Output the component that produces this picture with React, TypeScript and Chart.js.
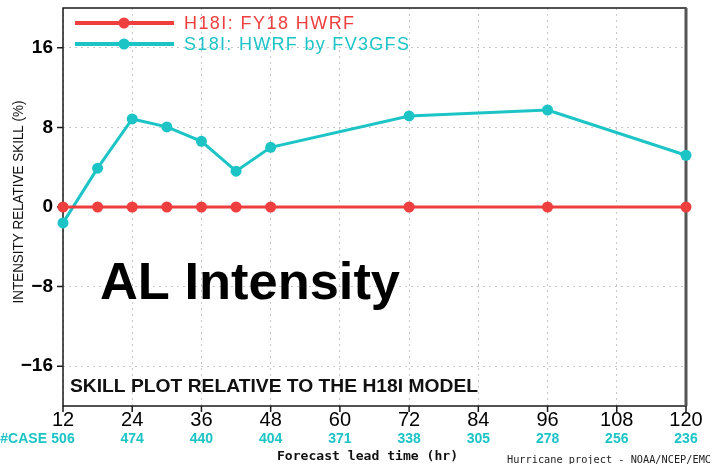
import { useEffect, useRef } from "react";
import { Chart, registerables } from "chart.js";

Chart.register(...registerables);

const leadTimes = [12, 18, 24, 30, 36, 42, 48, 72, 96, 120];
const h18iSkill = [0, 0, 0, 0, 0, 0, 0, 0, 0, 0];
const s18iSkill = [-1.6, 3.9, 8.85, 8.05, 6.6, 3.6, 6.0, 9.15, 9.75, 5.2];
const xTickValues = [12, 24, 36, 48, 60, 72, 84, 96, 108, 120];
const caseCounts = [506, 474, 440, 404, 371, 338, 305, 278, 256, 236];
const yTickValues = [-16, -8, 0, 8, 16];
const seriesLabels = ["H18I: FY18 HWRF", "S18I: HWRF by FV3GFS"];
const yAxisTitle = "INTENSITY RELATIVE SKILL (%)";
const xAxisTitle = "Forecast lead time (hr)";
const bigTitle = "AL Intensity";
const innerNote = "SKILL PLOT RELATIVE TO THE H18I MODEL";
const creditText = "Hurricane project - NOAA/NCEP/EMC";
const casePrefix = "#CASE";

const RED = "rgb(238,62,62)";
const CYAN = "rgb(28,196,198)";

function fitText(ctx: CanvasRenderingContext2D, text: string, x: number, y: number, width: number, font: string, color: string, align: "left" | "center" = "left") {
  ctx.save();
  ctx.font = font;
  ctx.fillStyle = color;
  ctx.textBaseline = "middle";
  const m = ctx.measureText(text).width;
  const s = width / m;
  ctx.translate(x, y);
  ctx.scale(s, 1);
  ctx.textAlign = align;
  ctx.fillText(text, 0, 0);
  ctx.restore();
}

function spacedText(ctx: CanvasRenderingContext2D, text: string, x: number, y: number, width: number, font: string, color: string) {
  ctx.save();
  ctx.font = font;
  ctx.fillStyle = color;
  ctx.textBaseline = "middle";
  ctx.textAlign = "left";
  const m = ctx.measureText(text).width;
  const sp = (width - m) / Math.max(1, text.length - 1);
  (ctx as any).letterSpacing = sp.toFixed(2) + "px";
  ctx.fillText(text, x, y);
  ctx.restore();
}

const overlay = {
  id: "overlay",
  beforeDatasetsDraw(chart: any) {
    const { ctx, chartArea: a, scales } = chart;
    const y = scales.y;
    const x = scales.x;
    ctx.save();
    const y0 = y.getPixelForValue(0);
    ctx.strokeStyle = "#222";
    ctx.lineWidth = 1.5;
    ctx.beginPath();
    ctx.moveTo(a.left, y0);
    ctx.lineTo(a.right, y0);
    ctx.stroke();
    ctx.strokeStyle = "#1a1a1a";
    ctx.lineWidth = 1.5;
    ctx.strokeRect(a.left, a.top, a.right - a.left, a.bottom - a.top);
    ctx.strokeStyle = "#555";
    ctx.lineWidth = 3;
    ctx.beginPath();
    ctx.moveTo(a.right, a.top);
    ctx.lineTo(a.right, a.bottom);
    ctx.stroke();
    ctx.strokeStyle = "#1a1a1a";
    ctx.lineWidth = 1.5;
    ctx.beginPath();
    yTickValues.forEach((v) => {
      const py = y.getPixelForValue(v);
      ctx.moveTo(a.left - 6, py);
      ctx.lineTo(a.left, py);
    });
    xTickValues.forEach((v) => {
      const px = x.getPixelForValue(v);
      ctx.moveTo(px, a.bottom);
      ctx.lineTo(px, a.bottom + 6);
    });
    ctx.stroke();
    ctx.restore();
  },
  afterDraw(chart: any) {
    const { ctx, scales } = chart;
    const x = scales.x;
    const colors = [RED, CYAN];
    const legendWidths = [170, 225];
    seriesLabels.forEach((lab, i) => {
      const ly = 23 + i * 21;
      ctx.save();
      ctx.strokeStyle = colors[i];
      ctx.fillStyle = colors[i];
      ctx.lineWidth = 4;
      ctx.beginPath();
      ctx.moveTo(75, ly);
      ctx.lineTo(174, ly);
      ctx.stroke();
      ctx.beginPath();
      ctx.arc(124, ly, 5.5, 0, Math.PI * 2);
      ctx.fill();
      ctx.restore();
      spacedText(ctx, lab, 184, ly + 1, legendWidths[i], '18px "Liberation Sans"', colors[i]);
    });
    fitText(ctx, bigTitle, 100, 285, 300, 'bold 52px "Liberation Sans"', "#000");
    fitText(ctx, innerNote, 70, 387, 408, 'bold 18px "Liberation Sans"', "#111");
    ctx.save();
    ctx.font = 'bold 14px "Liberation Sans"';
    ctx.fillStyle = CYAN;
    ctx.textBaseline = "middle";
    ctx.textAlign = "center";
    xTickValues.forEach((v, i) => {
      ctx.fillText(String(caseCounts[i]), x.getPixelForValue(v), 439);
    });
    ctx.textAlign = "right";
    ctx.fillText(casePrefix, 47, 439);
    ctx.restore();
    fitText(ctx, xAxisTitle, 277, 457, 181, 'bold 13px "DejaVu Sans Mono"', "#111");
    fitText(ctx, creditText, 507, 460, 204, '10px "DejaVu Sans Mono"', "#222");
    ctx.save();
    ctx.translate(19, 202);
    ctx.rotate(-Math.PI / 2);
    fitText(ctx, yAxisTitle, 0, 0, 203, '14px "Liberation Sans Narrow", "Liberation Sans"', "#111", "center");
    ctx.restore();
  },
};

export default function App() {
  const ref = useRef<HTMLCanvasElement | null>(null);
  useEffect(() => {
    document.body.style.margin = "0";
    if (!ref.current) return;
    const chart = new Chart(ref.current, {
      type: "line",
      data: {
        datasets: [
          {
            label: seriesLabels[0],
            data: leadTimes.map((t, i) => ({ x: t, y: h18iSkill[i] })),
            borderColor: RED,
            backgroundColor: RED,
            borderWidth: 3,
            pointRadius: 5.5,
            pointBorderWidth: 0,
            clip: false,
          },
          {
            label: seriesLabels[1],
            data: leadTimes.map((t, i) => ({ x: t, y: s18iSkill[i] })),
            borderColor: CYAN,
            backgroundColor: CYAN,
            borderWidth: 3,
            pointRadius: 5.5,
            pointBorderWidth: 0,
            clip: false,
          },
        ],
      },
      options: {
        animation: false,
        responsive: false,
        devicePixelRatio: 1,
        layout: { padding: { top: 8, right: 28, left: 0, bottom: 0 } },
        plugins: { legend: { display: false }, tooltip: { enabled: false } },
        scales: {
          x: {
            type: "linear",
            min: 12,
            max: 120,
            afterBuildTicks: (s: any) => {
              s.ticks = xTickValues.map((v) => ({ value: v }));
            },
            afterFit: (s: any) => {
              s.height = 58;
              s.paddingLeft = 0;
              s.paddingRight = 0;
            },
            ticks: {
              autoSkip: false,
              maxRotation: 0,
              padding: 2,
              color: "#000",
              font: { family: '"Liberation Sans"', size: 20 },
            },
            grid: { color: "#c9c9c9", lineWidth: 1, drawTicks: false },
            border: { display: false, dash: [2, 4] },
          },
          y: {
            type: "linear",
            min: -20,
            max: 20,
            afterBuildTicks: (s: any) => {
              s.ticks = yTickValues.map((v) => ({ value: v }));
            },
            afterFit: (s: any) => {
              s.width = 63;
              s.paddingTop = 0;
              s.paddingBottom = 0;
            },
            ticks: {
              padding: 10,
              color: "#000",
              font: { family: '"Liberation Sans"', size: 19, weight: "bold" },
              callback: (v: any) => (Number(v) < 0 ? "\u2212" + Math.abs(Number(v)) : String(v)),
            },
            grid: { color: "#c9c9c9", lineWidth: 1, drawTicks: false },
            border: { display: false, dash: [2, 4] },
          },
        },
      },
      plugins: [overlay],
    } as any);
    return () => chart.destroy();
  }, []);
  return (
    <div style={{ width: 714, height: 464, background: "#fff" }}>
      <canvas ref={ref} width={714} height={464} style={{ display: "block", width: 714, height: 464 }} />
    </div>
  );
}
